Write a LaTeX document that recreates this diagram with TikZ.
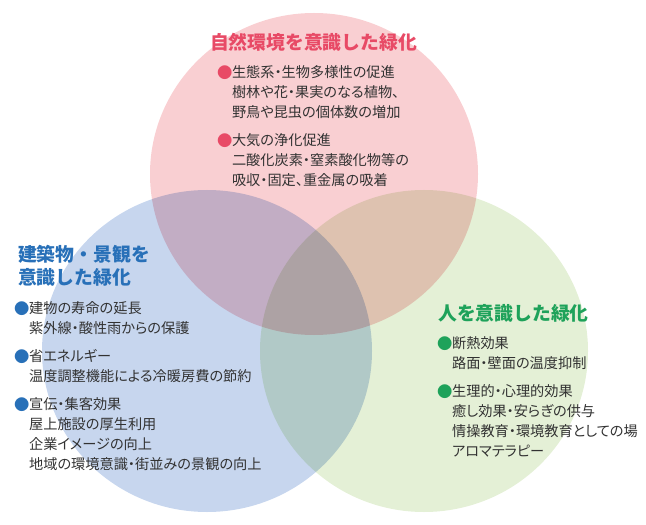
\documentclass[tikz,border=0pt]{standalone}
\usepackage{fontspec}
\setmainfont{Noto Sans CJK JP}[RawFeature=+palt]
\newfontfamily\headjp{Noto Sans CJK JP}
\usetikzlibrary{positioning}

\definecolor{natfill}{RGB}{249,207,210}
\definecolor{bldfill}{RGB}{199,214,238}
\definecolor{humfill}{RGB}{228,240,214}
\definecolor{nattext}{RGB}{232,74,102}
\definecolor{bldtext}{RGB}{40,112,184}
\definecolor{humtext}{RGB}{30,162,90}
\definecolor{bodytext}{RGB}{50,50,50}

\newcommand{\bodyfont}{\fontsize{14.2bp}{19.8bp}\selectfont}
\newcommand{\headfont}{\headjp\fontsize{18.8bp}{20.5bp}\selectfont\bfseries}
\newcommand{\dotitem}[2]{\strut\makebox[1.05em][l]{\raisebox{-0.04em}{\scalebox{1.08}{\textcolor{#1}{●}}}}#2}
\newcommand{\subline}[1]{\strut\hspace*{1.05em}#1}

\begin{document}
\begin{tikzpicture}[x=1bp, y=-1bp,
    every node/.style={inner sep=0pt, align=left, text=bodytext, font=\bodyfont},
    heading/.style={font=\headfont},
    itembox/.style={anchor=north west},
]
\useasboundingbox (0,0) rectangle (646,525);

% three overlapping circles
\begin{scope}[blend group=multiply]
  \fill[natfill] (314,174) ellipse [x radius=164, y radius=161];
  \fill[bldfill] (207,351) ellipse [x radius=165, y radius=161];
  \fill[humfill] (424,351) ellipse [x radius=164, y radius=161];
\end{scope}

% natural environment
\node[heading, text=nattext, anchor=north] (natTitle) at (313.5,32.7) {\strut 自然環境を意識した緑化};
\node[itembox, below right=8.3bp and 7bp of natTitle.south west] (natA)
  {\dotitem{nattext}{生態系・生物多様性の促進}\\ \subline{樹林や花・果実のなる植物、}\\ \subline{野鳥や昆虫の個体数の増加}};
\node[itembox, below right=8.2bp and 0bp of natA.south west] (natB)
  {\dotitem{nattext}{大気の浄化促進}\\ \subline{二酸化炭素・窒素酸化物等の}\\ \subline{吸収・固定、重金属の吸着}};

% buildings and townscape
\node[heading, text=bldtext, anchor=north west] (bldTitle) at (18,244.7) {\strut 建築物・景観を\\\strut 意識した緑化};
\node[itembox, below right=8.8bp and -4bp of bldTitle.south west] (bldA)
  {\dotitem{bldtext}{建物の寿命の延長}\\ \subline{紫外線・酸性雨からの保護}};
\node[itembox, below right=8.2bp and 0bp of bldA.south west] (bldB)
  {\dotitem{bldtext}{省エネルギー}\\ \subline{温度調整機能による冷暖房費の節約}};
\node[itembox, below right=8.2bp and 0bp of bldB.south west] (bldC)
  {\dotitem{bldtext}{宣伝・集客効果}\\ \subline{屋上施設の厚生利用}\\ \subline{企業イメージの向上}\\ \subline{地域の環境意識・街並みの景観の向上}};

% people
\node[heading, text=humtext, anchor=north west] (humTitle) at (438,304.7) {\strut 人を意識した緑化};
\node[itembox, below right=7.3bp and -1bp of humTitle.south west] (humA)
  {\dotitem{humtext}{断熱効果}\\ \subline{路面・壁面の温度抑制}};
\node[itembox, below right=8.2bp and 0bp of humA.south west] (humB)
  {\dotitem{humtext}{生理的・心理的効果}\\ \subline{癒し効果・安らぎの供与}\\ \subline{情操教育・環境教育としての場}\\ \subline{アロマテラピー}};

\end{tikzpicture}
\end{document}
